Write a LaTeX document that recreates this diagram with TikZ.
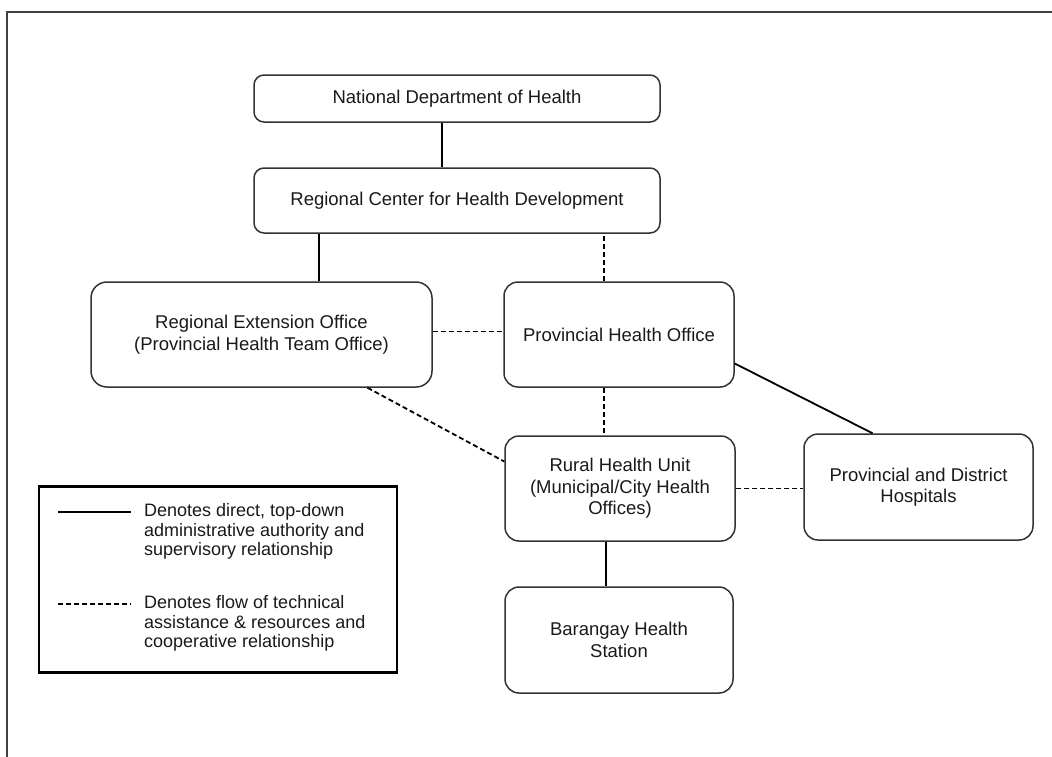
\documentclass[tikz,border=0pt]{standalone}
\usepackage{fontspec}
\setmainfont{Liberation Sans}
\usetikzlibrary{calc}
\begin{document}
\begin{tikzpicture}[x=1pt,y=-1pt,
  box/.style={draw=black!80, line width=1.5pt, rounded corners=10pt, align=center, inner sep=0pt,
    text=black!90, font=\fontsize{18.5}{21.5}\selectfont},
  solidlink/.style={draw=black, line width=1.8pt},
  dashlink/.style={draw=black, line width=1.8pt, dash pattern=on 5pt off 3pt},
  legtext/.style={anchor=west, align=left, inner sep=0pt, text=black!90, font=\fontsize{18}{19.5}\selectfont}]
\useasboundingbox (0,0) rectangle (1052,756);
% frame
\draw[black!75, line width=2pt] (7,757) -- (7,12) -- (1053,12);
% boxes
\node[box, minimum width=406pt, minimum height=47pt] (ndh) at (457,98.5) {National Department of Health};
\node[box, minimum width=406pt, minimum height=65pt] (rchd) at (457,200.5) {Regional Center for Health Development};
\node[box, rounded corners=16pt, minimum width=341pt, minimum height=105pt] (reo) at (261.5,334.5) {Regional Extension Office\\(Provincial Health Team Office)};
\node[box, rounded corners=14pt, minimum width=230pt, minimum height=105pt] (pho) at (619,334.5) {Provincial Health Office};
\node[box, rounded corners=14pt, minimum width=230pt, minimum height=105pt] (rhu) at (620,488.5) {Rural Health Unit\\(Municipal/City Health\\Offices)};
\node[box, rounded corners=14pt, minimum width=229pt, minimum height=106pt] (pdh) at (918.5,487) {Provincial and District\\Hospitals};
\node[box, rounded corners=14pt, minimum width=228pt, minimum height=106pt] (bhs) at (619,640) {Barangay Health\\Station};
% connectors
\draw[solidlink] ([xshift=-15pt]ndh.south) -- ([xshift=-15pt]ndh.south |- rchd.north);
\draw[solidlink] ([xshift=66pt]rchd.south west) -- ([xshift=66pt]rchd.south west |- reo.north);
\draw[dashlink] ([xshift=-15pt]pho.north) -- ([xshift=-15pt]pho.north |- rchd.south);
\draw[dashlink] ([yshift=3pt]reo.east) -- ([yshift=3pt]pho.west);
\draw[dashlink] ([xshift=106pt]reo.south) -- ([yshift=27pt]rhu.west);
\draw[dashlink] ([xshift=-15pt]pho.south) -- ([xshift=-15pt]pho.south |- rhu.north);
\draw[solidlink] ([yshift=-29pt]pho.east) -- ([xshift=-46pt]pdh.north);
\draw[dashlink] (rhu.east) -- (rhu.east -| pdh.west);
\draw[solidlink] ([xshift=-14pt]rhu.south) -- ([xshift=-14pt]rhu.south |- bhs.north);
% legend
\node[draw=black, line width=2.5pt, minimum width=358pt, minimum height=186pt, inner sep=0pt] (legend) at (218,579.5) {};
\coordinate (k1a) at (58,512);
\coordinate (k1b) at (131,512);
\coordinate (k2a) at (58,604);
\coordinate (k2b) at (131,604);
\draw[solidlink] (k1a) -- (k1b);
\draw[dashlink] (k2a) -- (k2b);
\node[legtext] (t1) at (144,531.5) {Denotes direct, top-down\\administrative authority and\\supervisory relationship};
\node[legtext] (t2) at (144,623.5) {Denotes flow of technical\\assistance \& resources and\\cooperative relationship};
\end{tikzpicture}
\end{document}
